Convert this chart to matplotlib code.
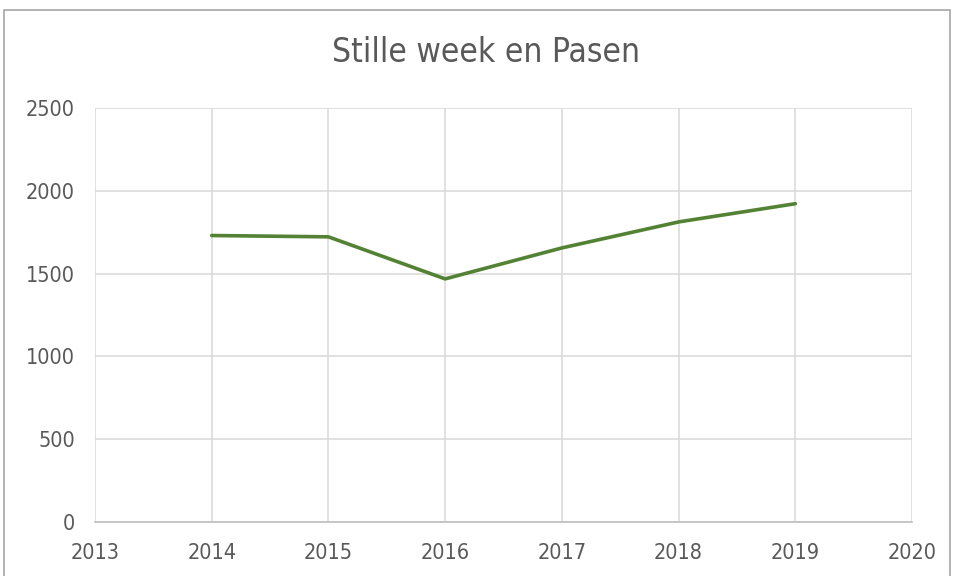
import matplotlib.pyplot as plt
from matplotlib.patches import Rectangle

plt.rcParams['font.family'] = ['DejaVu Sans']
plt.rcParams['font.stretch'] = 'condensed'

# data
years = [2014, 2015, 2016, 2017, 2018, 2019]
visits = [1730, 1722, 1468, 1655, 1812, 1922]
xticks = [2013, 2014, 2015, 2016, 2017, 2018, 2019, 2020]
yticks = [0, 500, 1000, 1500, 2000, 2500]

fig = plt.figure(figsize=(9.54, 5.76), dpi=100)
ax = fig.add_axes([95/954, 1-522/576, (912-95)/954, (522-108)/576])

# outer chart border
fig.patches.append(Rectangle((4/954, -0.05), 946/954, 1.05-10/576, transform=fig.transFigure,
                             fill=False, edgecolor='#a6a6a6', linewidth=1.2))

ax.plot(years, visits, color='#548235', linewidth=2.6, solid_capstyle='round', zorder=3)

ax.set_xlim(2013, 2020)
ax.set_ylim(0, 2500)
ax.set_xticks(xticks)
ax.set_yticks(yticks)
ax.grid(True, color='#d9d9d9', linewidth=1.1)
ax.set_axisbelow(True)
for s in ['top', 'right', 'left']:
    ax.spines[s].set_visible(False)
ax.spines['bottom'].set_color('#bfbfbf')
ax.spines['bottom'].set_linewidth(1.2)
ax.tick_params(length=0, labelsize=15.5, labelcolor='#595959')
ax.tick_params(axis='x', pad=15)
ax.tick_params(axis='y', pad=14.5)

fig.text(486/954, 1-53/576, 'Stille week en Pasen', ha='center', va='center',
         fontsize=24, color='#595959', fontstretch='condensed')

fig.savefig('out.png', dpi=100)
